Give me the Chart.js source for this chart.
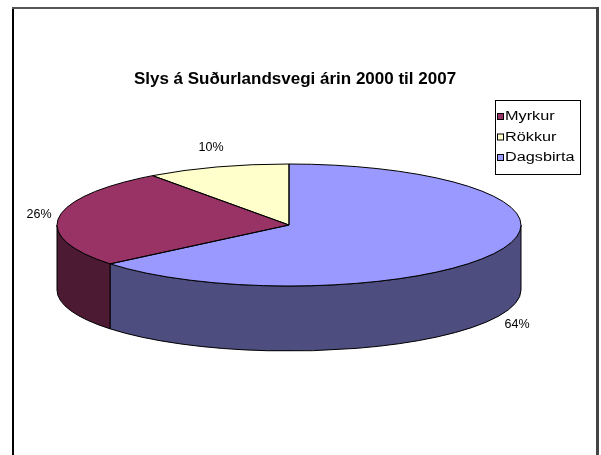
<!DOCTYPE html>
<html>
<head>
<meta charset="utf-8">
<script src="https://cdn.jsdelivr.net/npm/chart.js@4/dist/chart.umd.min.js"></script>
<style>
  html, body { margin: 0; padding: 0; background: #fff; }
  canvas { display: block; }
</style>
</head>
<body>
<canvas id="slysChart" width="601" height="455"></canvas>
<script>
const categories = ['Myrkur', 'Rökkur', 'Dagsbirta'];
const values = [26, 10, 64];
const topColors = ['#993366', '#ffffcc', '#9999ff'];
const sideColors = ['#4c1a32', '#7f7f66', '#4d4d7f'];

const FONT = "'Liberation Sans', Arial, sans-serif";
const total = values.reduce((a, b) => a + b, 0);

// geometry of the tilted pie (top ellipse centre, radii, wall height)
const PIE = { cx: 289, cy: 225, rx: 232, ry: 61, depth: 65 };

const pie3d = {
  id: 'pie3d',
  beforeDraw(chart) {
    const ctx = chart.ctx;
    ctx.save();
    ctx.fillStyle = '#fff';
    ctx.fillRect(0, 0, chart.width, chart.height);
    // outer frame
    ctx.fillStyle = '#000';
    ctx.fillRect(12, 7, 2, chart.height);
    ctx.fillStyle = '#555';
    ctx.fillRect(12, 7, 586, 2);
    ctx.fillStyle = '#444';
    ctx.fillRect(596, 7, 3, chart.height);
    ctx.restore();
  },
  beforeDatasetsDraw(chart) {
    const ctx = chart.ctx;
    const arcs = chart.getDatasetMeta(0).data;
    const { cx, cy, rx, ry, depth } = PIE;
    const R = arcs[0].outerRadius;

    ctx.save();
    ctx.lineWidth = 1;
    ctx.strokeStyle = '#000';
    ctx.lineJoin = 'round';

    // front walls: the part of each slice facing the viewer (0..PI on canvas)
    arcs.forEach((a, i) => {
      for (let k = -1; k <= 1; k++) {
        const lo = Math.max(a.startAngle, 2 * Math.PI * k);
        const hi = Math.min(a.endAngle, 2 * Math.PI * k + Math.PI);
        if (hi <= lo) continue;
        ctx.beginPath();
        ctx.ellipse(cx, cy, rx, ry, 0, lo, hi);
        ctx.ellipse(cx, cy + depth, rx, ry, 0, hi, lo, true);
        ctx.closePath();
        ctx.fillStyle = sideColors[i];
        ctx.fill();
        ctx.stroke();
      }
    });

    // top face: the library's arcs squashed onto the ellipse
    ctx.save();
    ctx.translate(cx, cy);
    ctx.scale(rx / R, ry / R);
    ctx.translate(-arcs[0].x, -arcs[0].y);
    arcs.forEach(a => a.draw(ctx));
    ctx.restore();

    arcs.forEach(a => {
      ctx.beginPath();
      ctx.moveTo(cx, cy);
      ctx.ellipse(cx, cy, rx, ry, 0, a.startAngle, a.endAngle);
      ctx.closePath();
      ctx.stroke();
    });

    // percentage labels outside each slice, below the wall for front slices
    ctx.font = '12.5px ' + FONT;
    ctx.fillStyle = '#000';
    ctx.textAlign = 'center';
    ctx.textBaseline = 'middle';
    arcs.forEach((a, i) => {
      const m = (a.startAngle + a.endAngle) / 2;
      const c = Math.cos(m), s = Math.sin(m);
      const x = cx + (rx + 20) * c;
      const y = cy + (ry + 20) * s + (s > 0 ? depth : 0);
      ctx.fillText(Math.round(values[i] / total * 100) + '%', x, y);
    });
    ctx.restore();
    return false;
  },
  afterDraw(chart) {
    const ctx = chart.ctx;
    ctx.save();
    // legend box
    ctx.strokeStyle = '#000';
    ctx.lineWidth = 1;
    ctx.strokeRect(495.5, 100.5, 85, 74);
    ctx.font = '12.5px ' + FONT;
    ctx.textBaseline = 'middle';
    ctx.textAlign = 'left';
    categories.forEach((name, i) => {
      const y = 117 + i * 20.5;
      ctx.fillStyle = topColors[i];
      ctx.fillRect(497.5, y - 3.5, 6, 6);
      ctx.strokeRect(497.5, y - 3.5, 6, 6);
      ctx.fillStyle = '#000';
      ctx.save();
      ctx.translate(505, y);
      ctx.scale(1.3, 1);
      ctx.fillText(name, 0, 0);
      ctx.restore();
    });
    ctx.restore();
  }
};

new Chart(document.getElementById('slysChart'), {
  type: 'pie',
  data: {
    labels: categories,
    datasets: [{ data: values, backgroundColor: topColors, borderWidth: 0 }]
  },
  options: {
    responsive: false,
    animation: false,
    // last slice (Dagsbirta) starts at twelve o'clock
    rotation: 360 * values[2] / total,
    layout: { padding: { top: 69, right: 11 } },
    plugins: {
      legend: { display: false },
      tooltip: { enabled: false },
      title: {
        display: true,
        text: 'Slys á Suðurlandsvegi árin 2000 til 2007',
        color: '#000',
        font: { family: FONT, size: 17, weight: 'bold' },
        padding: { top: 0, bottom: 0 }
      }
    }
  },
  plugins: [pie3d]
});
</script>
</body>
</html>
